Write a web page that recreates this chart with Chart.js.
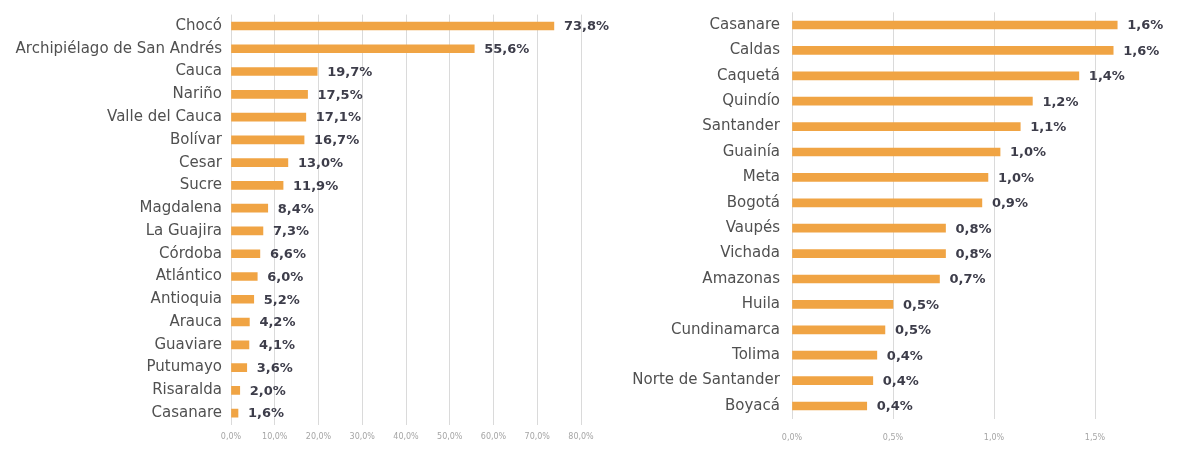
<!DOCTYPE html>
<html>
<head>
<meta charset="utf-8">
<script src="https://cdn.jsdelivr.net/npm/chart.js@4"></script>
<style>
  html, body { margin: 0; padding: 0; background: #fff; overflow: hidden; width: 1182px; height: 449px; }
  canvas { position: absolute; top: 0; }
  #leftChart { left: 0; }
  #rightChart { left: 600px; }
</style>
</head>
<body>
<canvas id="leftChart" width="640" height="449"></canvas>
<canvas id="rightChart" width="600" height="449"></canvas>
<script>
// Data
const leftCategories = ['Chocó', 'Archipiélago de San Andrés', 'Cauca', 'Nariño', 'Valle del Cauca', 'Bolívar',
  'Cesar', 'Sucre', 'Magdalena', 'La Guajira', 'Córdoba', 'Atlántico', 'Antioquia', 'Arauca', 'Guaviare',
  'Putumayo', 'Risaralda', 'Casanare'];
const leftValues = [73.8, 55.6, 19.7, 17.5, 17.1, 16.7, 13.0, 11.9, 8.4, 7.3, 6.6, 6.0, 5.2, 4.2, 4.1, 3.6, 2.0, 1.6];
const leftTicks = ['0,0%', '10,0%', '20,0%', '30,0%', '40,0%', '50,0%', '60,0%', '70,0%', '80,0%'];

const rightCategories = ['Casanare', 'Caldas', 'Caquetá', 'Quindío', 'Santander', 'Guainía', 'Meta', 'Bogotá',
  'Vaupés', 'Vichada', 'Amazonas', 'Huila', 'Cundinamarca', 'Tolima', 'Norte de Santander', 'Boyacá'];
const rightValues = [1.61, 1.59, 1.42, 1.19, 1.13, 1.03, 0.97, 0.94, 0.76, 0.76, 0.73, 0.5, 0.46, 0.42, 0.4, 0.37];
const rightTicks = ['0,0%', '0,5%', '1,0%', '1,5%', '2,0%'];

const barColor = '#F0A444';
const labelFont = '"DejaVu Sans", sans-serif';

// draws "73,8%" style labels after each bar
const valueLabels = {
  id: 'valueLabels',
  afterDatasetsDraw(chart) {
    const ctx = chart.ctx;
    const meta = chart.getDatasetMeta(0);
    const values = chart.data.datasets[0].data;
    ctx.save();
    ctx.font = 'bold 13px ' + labelFont;
    ctx.fillStyle = '#3d3d4a';
    ctx.textAlign = 'left';
    ctx.textBaseline = 'middle';
    meta.data.forEach((bar, i) => {
      const txt = values[i].toFixed(1).replace('.', ',') + '%';
      ctx.fillText(txt, bar.x + 10, bar.y + 1);
    });
    ctx.restore();
  }
};

function makeChart(id, cats, vals, ticks, opts) {
  const ctx = document.getElementById(id).getContext('2d');
  return new Chart(ctx, {
    type: 'bar',
    data: {
      labels: cats,
      datasets: [{ data: vals, backgroundColor: barColor, barThickness: 8 }]
    },
    options: {
      indexAxis: 'y',
      responsive: false,
      animation: false,
      devicePixelRatio: 1,
      layout: { padding: { top: opts.top, right: opts.right, left: 0, bottom: 0 } },
      plugins: { legend: { display: false }, tooltip: { enabled: false } },
      scales: {
        x: {
          min: 0,
          max: opts.max,
          afterBuildTicks: (scale) => {
            scale.ticks = ticks.map((t, i) => ({ value: i * opts.step }));
          },
          afterFit: (scale) => {
            scale.height = opts.axisH;
            scale.paddingLeft = 0;
            scale.paddingRight = 0;
          },
          grid: { color: '#dadada', drawTicks: false },
          border: { display: false },
          ticks: {
            padding: opts.tickPad,
            color: '#a5a5a5',
            font: { family: labelFont, size: 8 },
            callback: (v, i) => ticks[i]
          }
        },
        y: {
          afterFit: (scale) => {
            scale.width = opts.yWidth;
            scale.paddingTop = 0;
            scale.paddingBottom = 0;
          },
          grid: { display: false, drawTicks: false },
          border: { display: false },
          ticks: {
            padding: opts.yPad,
            color: '#505050',
            font: { family: labelFont, size: 15 }
          }
        }
      }
    },
    plugins: [valueLabels]
  });
}

makeChart('leftChart', leftCategories, leftValues, leftTicks,
  { max: 80, step: 10, top: 14.6, right: 59, axisH: 24.5, tickPad: 8, yWidth: 231, yPad: 9 });
makeChart('rightChart', rightCategories, rightValues, rightTicks,
  { max: 2, step: 0.5, top: 12.3, right: 4, axisH: 30.3, tickPad: 14, yWidth: 192, yPad: 12 });
</script>
</body>
</html>
